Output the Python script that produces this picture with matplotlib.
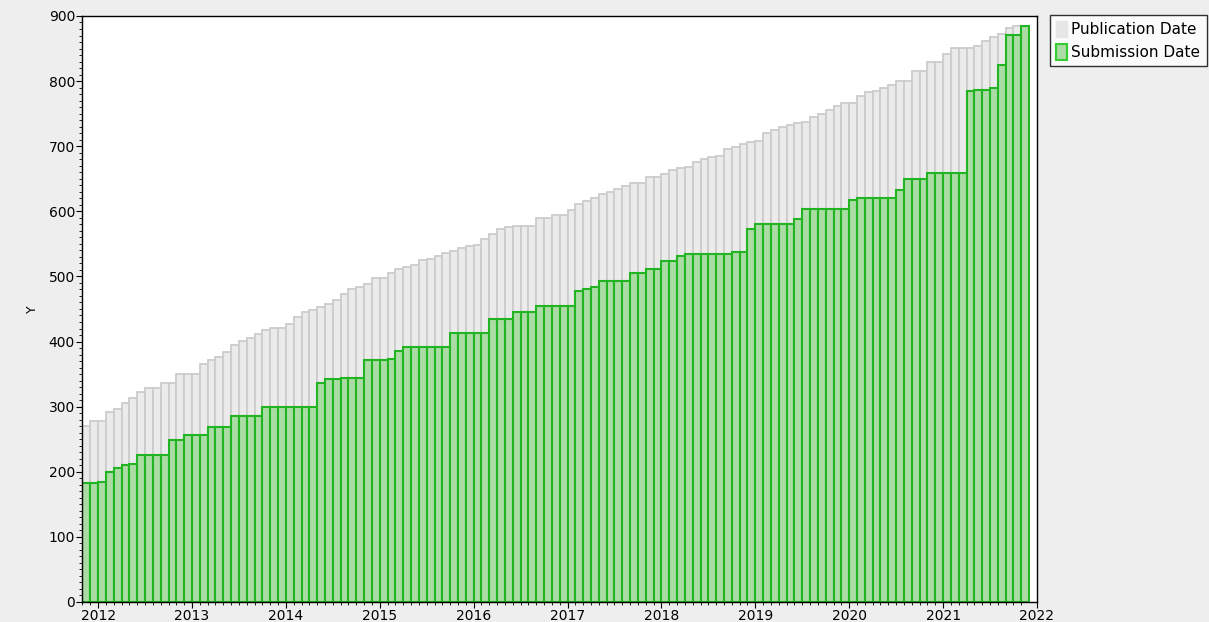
import numpy as np
import pandas as pd
import matplotlib
matplotlib.use('Agg')
import matplotlib.pyplot as plt
from matplotlib.patches import Patch

# monthly cumulative counts, Nov 2011 .. Nov 2021
months = pd.period_range('2011-11', '2021-11', freq='M')

publication = [271, 278, 278, 292, 296, 306, 314, 322, 328, 328,
               337, 337, 350, 350, 350, 365, 372, 377, 384, 395,
               401, 406, 411, 418, 421, 421, 427, 437, 445, 449,
               453, 457, 464, 473, 481, 483, 489, 497, 497, 506,
               512, 515, 518, 525, 527, 531, 536, 539, 543, 547,
               548, 558, 565, 573, 576, 578, 578, 578, 590, 590,
               594, 594, 602, 611, 616, 621, 626, 630, 635, 639,
               643, 644, 652, 652, 658, 664, 666, 668, 675, 680,
               684, 685, 695, 699, 703, 707, 708, 720, 725, 729,
               733, 735, 737, 745, 749, 755, 761, 766, 766, 777,
               783, 785, 789, 794, 800, 800, 815, 815, 829, 829,
               841, 851, 851, 851, 854, 862, 868, 872, 882, 884, 885]

submission = [182, 182, 185, 200, 206, 210, 212, 226, 226, 226,
              226, 248, 248, 256, 256, 256, 268, 268, 268, 286,
              286, 286, 286, 300, 300, 300, 300, 300, 300, 300,
              337, 342, 342, 344, 344, 344, 371, 371, 371, 373,
              385, 391, 391, 391, 391, 391, 391, 413, 413, 413,
              413, 413, 435, 435, 435, 445, 445, 445, 454, 454,
              454, 454, 454, 477, 481, 483, 493, 493, 493, 493,
              506, 506, 511, 511, 524, 524, 531, 534, 534, 534,
              534, 534, 534, 537, 537, 573, 580, 580, 580, 580,
              580, 588, 604, 604, 604, 604, 604, 604, 617, 620,
              620, 620, 620, 620, 633, 650, 650, 650, 659, 659,
              659, 659, 659, 785, 787, 787, 789, 825, 871, 871, 885]

years = list(range(2012, 2023))

x = np.array([m.year + (m.month - 1) / 12 for m in months])

fig = plt.figure(figsize=(12.09, 6.22), dpi=100, facecolor='#eeeeee')
ax = fig.add_axes([0.0678, 0.0322, 0.7899, 0.9421])
ax.set_facecolor('white')

gray_fill, gray_edge = '#ebebeb', '#cccccc'
green_fill, green_edge = '#abdca5', '#22b422'

ax.bar(x, publication, width=1/12, align='edge', color=gray_fill,
       edgecolor=gray_edge, linewidth=1.3)
ax.bar(x, submission, width=1/12, align='edge', color=green_fill,
       edgecolor=green_edge, linewidth=1.5)

ax.set_xlim(2011 + 10/12 - 0.005, 2022)
ax.set_ylim(0, 900)
ax.set_xticks(years)
ax.set_xticklabels([str(y) for y in years])
ax.set_xticks(x, minor=True)
ax.set_yticks(range(0, 901, 100))
ax.set_yticks(range(0, 901, 10), minor=True)
ax.tick_params(axis='both', which='major', labelsize=10, length=4,
               direction='out', pad=1, colors='black')
ax.tick_params(axis='both', which='minor', length=2, direction='out')
ax.set_ylabel('Y', fontsize=9, labelpad=7)
for s in ax.spines.values():
    s.set_linewidth(1.0)
    s.set_color('black')

handles = [Patch(facecolor='#e6e6e6', edgecolor='#e6e6e6', label='Publication Date'),
           Patch(facecolor=green_fill, edgecolor='#33cc33', linewidth=1.5,
                 label='Submission Date')]
leg = fig.legend(handles=handles, loc='upper left',
                 bbox_to_anchor=(1050 / 1209, 1 - 15 / 622),
                 bbox_transform=fig.transFigure, fontsize=11,
                 frameon=True, fancybox=False, borderaxespad=0,
                 borderpad=0.4, handlelength=0.7, handleheight=1.2,
                 handletextpad=0.3, labelspacing=0.45)
leg.get_frame().set_edgecolor('black')
leg.get_frame().set_linewidth(1.0)

fig.savefig('out.png', dpi=100, facecolor=fig.get_facecolor())
